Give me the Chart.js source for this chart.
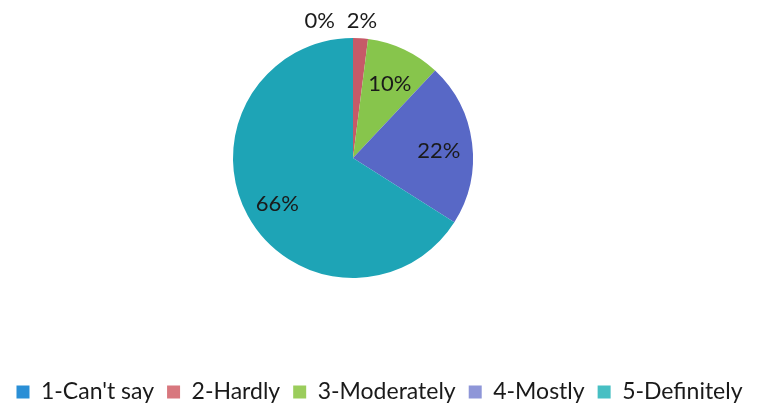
<!DOCTYPE html>
<html>
<head>
<meta charset="utf-8">
<script src="https://cdn.jsdelivr.net/npm/chart.js@4"></script>
<style>
  html, body { margin: 0; padding: 0; background: #ffffff; }
  #wrap { width: 759px; height: 417px; position: relative; }
</style>
</head>
<body>
<div id="wrap"><canvas id="c" width="759" height="417"></canvas></div>
<script>
// ---- data ----
const categories = ["1-Can't say", "2-Hardly", "3-Moderately", "4-Mostly", "5-Definitely"];
const percentValues = [0, 2, 10, 22, 66];
const sliceColors = ["#1f88cf", "#c65a68", "#87c54c", "#5868c6", "#1ea4b6"];
const legendColors = ["#2a8fd6", "#d8777e", "#9bcd5c", "#8e96d8", "#47bfc3"];

const FONT = "Lato, 'Open Sans', 'DejaVu Sans', sans-serif";

const labelPlugin = {
  id: 'sliceLabels',
  afterLayout(chart) {
    // shift the pie to the left of the canvas centre (legend keeps full width)
    const a = chart.chartArea;
    a.right -= 53;
    a.width = a.right - a.left;
  },
  afterDatasetsDraw(chart) {
    const ctx = chart.ctx;
    const meta = chart.getDatasetMeta(0);
    const data = chart.data.datasets[0].data;
    ctx.save();
    ctx.font = "22px " + FONT;
    ctx.fillStyle = "#1a1a1a";
    ctx.textBaseline = "middle";
    meta.data.forEach((arc, i) => {
      const p = arc.getProps(['x', 'y', 'startAngle', 'endAngle', 'outerRadius'], true);
      const mid = (p.startAngle + p.endAngle) / 2;
      const v = data[i];
      const txt = v + "%";
      let r, align = "center", dx = 0;
      if (v >= 5) {
        r = p.outerRadius * 0.72;
      } else {
        r = p.outerRadius + 21;
        if (v === 0) { align = "right"; dx = -18; }
      }
      const x = p.x + Math.cos(mid) * r + dx;
      const y = p.y + Math.sin(mid) * r + 4;
      ctx.textAlign = align;
      ctx.fillText(txt, x, y);
    });
    ctx.restore();
  }
};

new Chart(document.getElementById('c'), {
  type: 'pie',
  data: {
    labels: categories,
    datasets: [{
      data: percentValues,
      backgroundColor: sliceColors,
      borderWidth: 0
    }]
  },
  options: {
    responsive: false,
    animation: false,
    radius: 120,
    layout: { padding: { top: 0, left: 0, right: 0, bottom: 3.5 } },
    plugins: {
      tooltip: { enabled: false },
      legend: {
        position: 'bottom',
        title: { display: true, text: '', font: { size: 10 }, padding: { top: 0, bottom: 39.5 } },
        labels: {
          boxWidth: 13,
          boxHeight: 13,
          padding: 13,
          color: "#1a1a1a",
          font: { size: 23, family: FONT },
          generateLabels(chart) {
            const items = Chart.overrides.pie.plugins.legend.labels.generateLabels(chart);
            items.forEach((it, i) => {
              it.fillStyle = legendColors[i];
              it.strokeStyle = legendColors[i];
              it.lineWidth = 0;
              it.hidden = false;
            });
            return items;
          }
        }
      }
    }
  },
  plugins: [labelPlugin]
});
</script>
</body>
</html>
